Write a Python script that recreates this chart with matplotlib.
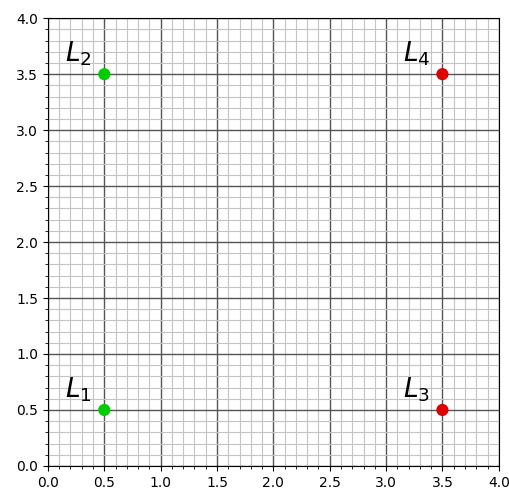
import numpy as np
import matplotlib
matplotlib.use("Agg")
from matplotlib import pyplot as plt
from matplotlib.ticker import MultipleLocator

# landmark data
names = ['$L_1$', '$L_2$', '$L_3$', '$L_4$']
xs = [0.5, 0.5, 3.5, 3.5]
ys = [0.5, 3.5, 0.5, 3.5]
colors = ['#00cc00', '#00cc00', '#dd0000', '#dd0000']

fig, ax = plt.subplots(figsize=(5.1, 4.92), dpi=100)
fig.subplots_adjust(left=0.094, right=0.978, bottom=0.053, top=0.963)

ax.set_xlim(0, 4)
ax.set_ylim(0, 4)
ax.xaxis.set_major_locator(MultipleLocator(0.5))
ax.yaxis.set_major_locator(MultipleLocator(0.5))
ax.xaxis.set_minor_locator(MultipleLocator(0.1))
ax.yaxis.set_minor_locator(MultipleLocator(0.1))
ax.grid(which='major', color='#555555', lw=1.0)
ax.grid(which='minor', color='#c4c4c4', lw=0.8)
ax.set_axisbelow(True)

ax.scatter(xs, ys, c=colors, s=60, zorder=3)
for n, x, y in zip(names, xs, ys):
    ax.text(x - 0.35, y + 0.11, n, fontsize=19)

plt.savefig('out.png', dpi=100)
